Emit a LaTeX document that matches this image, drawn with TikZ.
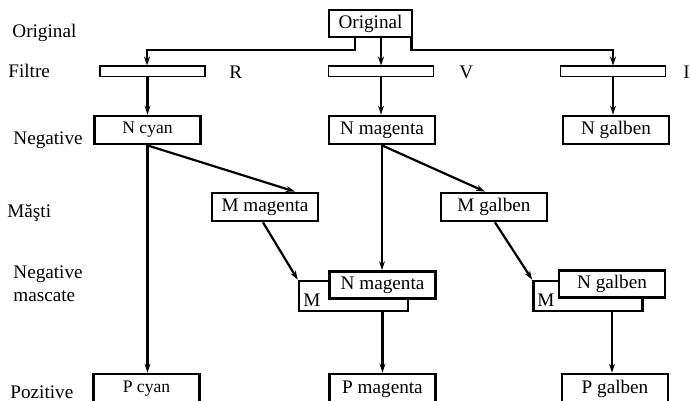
\documentclass[tikz,border=0pt]{standalone}
\usepackage{fontspec}
\setmainfont{Liberation Serif}
\usetikzlibrary{arrows.meta,calc}
\begin{document}
\begin{tikzpicture}[x=0.5pt,y=-0.5pt,
  font=\fontsize{9.6}{11.5}\selectfont,
  box/.style={draw,line width=1.4pt,fill=white,inner sep=0pt,minimum width=53pt,minimum height=14pt},
  filt/.style={draw,line width=0.75pt,inner sep=0pt,minimum width=52.5pt,minimum height=5.25pt},
  mbox/.style={draw,line width=1.3pt,inner sep=0pt,minimum width=54.5pt,minimum height=15pt},
  arr/.style={line width=1.1pt,-{Stealth[length=4.5pt,width=3pt]}},
  lab/.style={anchor=west,inner sep=0pt},
  small/.style={font=\fontsize{8.8}{10.5}\selectfont}]
\useasboundingbox (0,0) rectangle (690,401);
% left labels
\node[lab] (lorig) at (12,33) {Original};
\node[lab] (lfilt) at (8,71) {Filtre};
\node[lab] (lneg) at (13,140) {Negative};
\node[lab] (lmasti) at (7,213) {Măşti};
\node[lab,align=left] (lnegm) at (13,284) {Negative\\mascate};
\node[lab] (lpoz) at (10,392) {Pozitive};
% top
\node[box,minimum width=41.5pt,minimum height=13.5pt] (orig) at (370.5,23.5) {Original};
% filters
\node[filt] (f1) at (152.5,71.5) {};
\node[filt] (f2) at (381,71.5) {};
\node[filt] (f3) at (613,71.5) {};
\node[lab] (lR) at (229,72) {R};
\node[lab] (lV) at (459,72) {V};
\node[lab] (lI) at (683,72) {I};
% negatives
\node[box,small] (Nc) at (147.5,130) {N cyan};
\node[box] (Nm) at (382,130) {N magenta};
\node[box] (Ng) at (616,130) {N galben};
% masks
\node[box] (Mm) at (265,207) {M magenta};
\node[box] (Mg) at (494,207) {M galben};
% masked negatives
\node[mbox] (M1) at (353.5,296) {};
\node[lab] (M1l) at (303,300) {M};
\node[box,minimum height=13.5pt] (Nm2) at (382.5,285) {N magenta};
\node[mbox] (M2) at (588,296) {};
\node[lab] (M2l) at (537,300) {M};
\node[box,minimum height=13.5pt] (Ng2) at (612,284) {N galben};
% positives
\node[box,small,minimum height=15pt] (Pc) at (146.5,389) {P cyan};
\node[box,minimum height=15pt] (Pm) at (382.5,389) {P magenta};
\node[box,minimum height=15pt] (Pg) at (615,389) {P galben};
% connectors
\draw[arr] ([xshift=-7.75pt]orig.south) -- ++(0,12) -| ([xshift=-2.75pt]f1.north);
\draw[arr] ([xshift=5.25pt]orig.south) -- (f2.north);
\draw[arr] ([xshift=-1pt]orig.south east) -- ++(0,12) -| (f3.north);
\draw[arr] (f1.south -| Nc.north) -- (Nc.north);
\draw[arr] (f2.south) -- (f2.south |- Nm.north);
\draw[arr] (f3.south) -- (f3.south |- Ng.north);
\draw[arr] (Nc.south) -- ([xshift=15pt]Mm.north);
\draw[arr] (Nm.south) -- ([xshift=-4.5pt]Mg.north);
\draw[arr] (Nc.south) -- (Nc.south |- Pc.north);
\draw[arr] (Nm.south) -- (Nm.south |- Nm2.north);
\draw[arr] ([xshift=-1pt]Mm.south) -- (M1.north west);
\draw[arr] ([xshift=0.5pt]Mg.south) -- (M2.north west);
\draw[arr] (M1.south -| Pm.north) -- (Pm.north);
\draw[arr] (M2.south -| Ng2.north) -- (Ng2.north |- Pg.north);
\end{tikzpicture}
\end{document}
